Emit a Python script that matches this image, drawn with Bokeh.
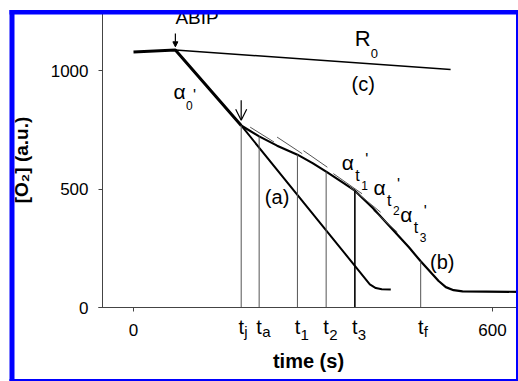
import numpy as np
from bokeh.plotting import figure
from bokeh.models import (Range1d, FixedTicker, Label, Arrow, OpenHead, NormalHead,
                          BoxAnnotation)
from bokeh.embed import file_html
from bokeh.resources import INLINE

# ---------------- data ----------------
time_b = [0, 70, 180, 210, 240, 274, 300, 324, 350, 370, 400, 430, 460, 480, 510, 522, 535, 550, 645]
o2_b = [1078, 1087, 768, 722, 683, 645, 608, 570, 527, 493, 420, 338, 255, 195, 112, 86, 73, 68, 66]
time_a = [180, 395, 405, 415, 430]
o2_a = [768, 98, 82, 77, 76]
time_c = [70, 530]
o2_c = [1087, 1004]
tan_t0 = [195, 240, 284, 334, 362, 401]
tan_t1 = [235, 282, 324, 382, 413, 441]
tan_v0 = [761, 719, 662, 565, 508, 409]
tan_v1 = [698, 649, 592, 480, 402, 318]
t_marks = [180, 210, 274, 322, 370, 480]
t_subs = ["j", "a", "1", "2", "3", "f"]
x_ticks = [0, 600]
y_ticks = [0, 500, 1000]
t_abip = 70
alpha_t = [67, 348, 401, 446]
alpha_v = [861, 564, 459, 346]
alpha_sub = ["0", "t", "t", "t"]
alpha_subsub = ["", "1", "2", "3"]
curve_lbl = ["(a)", "(b)", "(c)"]
curve_lbl_t = [240, 516, 384]
curve_lbl_v = [466, 191, 944]

FONT = "Liberation Sans"
# visible window of the (cropped) figure
X0, X1 = -222.3, 643.5
Y0, Y1 = -312.2, 1295.4
XAX0 = -51.8          # y axis position (time)
YTOP = 1244.7         # top of y axis

p = figure(width=518, height=381, x_range=Range1d(X0, X1), y_range=Range1d(Y0, Y1),
           output_backend="svg", toolbar_location=None,
           min_border_left=0, min_border_right=0, min_border_top=0, min_border_bottom=0)
p.outline_line_color = None
p.grid.visible = False
p.background_fill_color = "white"
p.border_fill_color = "white"

p.yaxis.fixed_location = XAX0
p.yaxis.bounds = (0, YTOP)
p.xaxis.fixed_location = 0
p.xaxis.bounds = (-58.5, X1)

for ax, ticks, so in ((p.xaxis, x_ticks, 12), (p.yaxis, y_ticks, 10)):
    ax.ticker = FixedTicker(ticks=ticks, minor_ticks=[])
    ax.major_tick_in = 0
    ax.major_tick_out = 4
    ax.minor_tick_in = 0
    ax.minor_tick_out = 0
    ax.axis_line_color = "#444444"
    ax.major_tick_line_color = "#444444"
    ax.major_label_text_font = FONT
    ax.major_label_text_font_size = "17px"
    ax.major_label_text_color = "black"
    ax.major_label_standoff = so
    ax.axis_label_text_font = FONT
    ax.axis_label_text_font_style = "bold"
    ax.axis_label_text_color = "black"

p.yaxis.axis_label = "[O₂] (a.u.)"
p.yaxis.axis_label_text_font_size = "19px"
p.yaxis.axis_label_standoff = 16
p.xaxis.axis_label = "time (s)"
p.xaxis.axis_label_text_font_size = "20px"
p.xaxis.axis_label_standoff = 11

# curves
p.line(time_b[:3], o2_b[:3], line_width=3, color="black")
p.line(time_b[2:], o2_b[2:], line_width=2.2, color="black")
p.line(time_a, o2_a, line_width=2, color="black")
p.line(time_c, o2_c, line_width=1.5, color="black")

# tangents
p.segment(x0=tan_t0, y0=tan_v0, x1=tan_t1, y1=tan_v1, line_width=1, color="#555555")

# vertical markers and their labels
tops = np.interp(t_marks, time_b, o2_b)
for i, (t, top) in enumerate(zip(t_marks, tops)):
    dark = t_subs[i] == "3"
    p.segment(x0=[t], y0=[0], x1=[t], y1=[top], line_width=1.6 if dark else 1,
              color="black" if dark else "#555555")
    p.add_layout(Label(x=t, y=0, y_offset=-30, text="t", text_align="center",
                       text_font=FONT, text_font_size="20px", text_color="black"))
    p.add_layout(Label(x=t, y=0, x_offset=3, y_offset=-32.5, text=t_subs[i], text_align="left",
                       text_font=FONT, text_font_size="15px", text_color="black"))

# arrows
p.add_layout(Arrow(end=OpenHead(size=11, line_width=1.2), x_start=t_marks[0], y_start=875,
                   x_end=t_marks[0], y_end=790, line_width=1.2))
p.add_layout(Arrow(end=NormalHead(size=5, fill_color="black", line_color="black"),
                   x_start=t_abip, y_start=1156, x_end=t_abip, y_end=1100, line_width=1.2))
p.add_layout(Label(x=t_abip, y=1181, text="ABIP", text_font=FONT, text_font_size="19px",
                   text_color="black"))

# R0
p.add_layout(Label(x=370, y=1084, text="R", text_font=FONT, text_font_size="22px", text_color="black"))
p.add_layout(Label(x=370, y=1084, x_offset=16, y_offset=-7, text="0", text_font=FONT,
                   text_font_size="13px", text_color="black"))

# curve labels
for s, t, v in zip(curve_lbl, curve_lbl_t, curve_lbl_v):
    p.add_layout(Label(x=t, y=v, text=s, text_align="center", text_baseline="middle",
                       text_font=FONT, text_font_size="20px", text_color="black"))

# alpha labels
for t, v, s1, s2 in zip(alpha_t, alpha_v, alpha_sub, alpha_subsub):
    p.add_layout(Label(x=t, y=v, text="α", text_font=FONT, text_font_size="21px", text_color="black"))
    if s2:
        p.add_layout(Label(x=t, y=v, x_offset=13.5, y_offset=-10, text=s1, text_font=FONT,
                           text_font_size="16px", text_color="black"))
        p.add_layout(Label(x=t, y=v, x_offset=19.5, y_offset=-16.5, text=s2, text_font=FONT,
                           text_font_size="12px", text_color="black"))
        p.add_layout(Label(x=t, y=v, x_offset=23.5, y_offset=6, text="'", text_font=FONT,
                           text_font_size="16px", text_color="black"))
    else:
        p.add_layout(Label(x=t, y=v, x_offset=12.5, y_offset=-7, text=s1, text_font=FONT,
                           text_font_size="12px", text_color="black"))
        p.add_layout(Label(x=t, y=v, x_offset=19.5, y_offset=-1, text="'", text_font=FONT,
                           text_font_size="16px", text_color="black"))

# blue selection frame around the picture
def band(l, r, t, b):
    return BoxAnnotation(left=l, right=r, top=t, bottom=b, left_units="canvas",
                         right_units="canvas", top_units="canvas", bottom_units="canvas",
                         fill_color="#0000ff", fill_alpha=1, line_color=None, level="overlay")

p.add_layout(band(9, 14, 9.5, 381))
p.add_layout(band(9, 518, 9.5, 14))
p.add_layout(band(515.5, 517.5, 9.5, 381))
p.add_layout(band(9, 518, 378.5, 380.5))

open("out.html", "w").write(file_html(p, INLINE))
